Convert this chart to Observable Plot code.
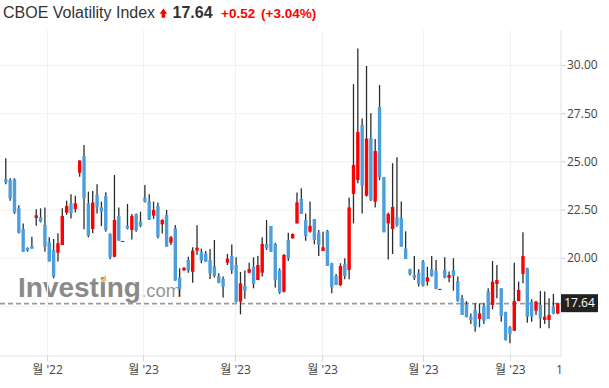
<!DOCTYPE html>
<html><head><meta charset="utf-8">
<script src="https://cdn.jsdelivr.net/npm/d3@7"></script>
<script src="https://cdn.jsdelivr.net/npm/@observablehq/plot@0.6"></script>
<style>
html,body{margin:0;padding:0;background:#fff;}
body{width:609px;height:388px;overflow:hidden;position:relative;}
#title{display:block;}
#chart svg{display:block;}
</style></head><body>
<svg id="title" width="609" height="30" style="font-family:Arial,'Liberation Sans',sans-serif">
  <text x="3" y="18.3" font-size="16" fill="#333">CBOE Volatility Index</text>
  <path d="M159.6,13.8 L163.4,8.6 L167.2,13.8 L165.2,13.8 L165.2,17.8 L161.6,17.8 L161.6,13.8 Z" fill="#f00"/>
  <text x="172.5" y="18.3" font-size="16" font-weight="bold" fill="#333">17.64</text>
  <text x="221" y="18" font-size="13.5" font-weight="bold" fill="#f00">+0.52</text>
  <text x="261" y="18" font-size="13.5" font-weight="bold" fill="#f00">(+3.04%)</text>
</svg>
<div id="chart"></div>
<script>
const opens  = [24.08,24.03,24.08,22.56,21.49,20.50,20.61,22.06,22.09,21.70,20.80,20.40,20.26,20.66,22.34,22.82,22.53,24.41,25.28,22.82,21.49,23.25,22.61,23.20,21.23,20.05,22.16,20.87,21.65,21.44,22.27,21.87,23.12,22.94,22.18,22.68,21.73,22.22,20.78,21.52,18.98,19.34,19.88,19.27,20.37,20.31,20.21,19.88,19.57,19.05,18.90,19.74,20.09,19.62,17.72,18.53,19.22,19.53,18.84,19.22,20.71,21.65,20.71,19.36,18.24,20.92,21.00,21.78,23.05,21.96,21.35,22.01,21.30,20.35,21.39,19.71,19.05,18.58,19.67,19.36,23.31,24.03,26.89,23.22,26.21,22.91,27.82,24.19,21.78,21.49,22.10,22.06,20.48,19.40,19.10,19.22,19.79,18.76,19.41,19.31,18.38,19.36,18.96,19.36,18.79,17.89,17.58,16.94,17.29,16.82,17.49,18.24,17.55,18.64,18.41,17.17,16.39,16.21,17.75,19.16,19.45,17.72,17.25,17.55,16.77,16.77,17.46,17.10];
const highs  = [25.16,24.12,24.12,22.72,21.78,20.54,21.09,22.51,22.56,22.61,21.06,20.97,21.27,22.56,22.96,23.29,23.22,25.06,25.85,23.43,23.46,23.81,22.91,23.39,21.27,24.29,22.60,20.87,22.79,22.27,22.30,22.39,23.77,23.29,22.91,22.86,21.99,22.48,21.13,21.70,19.45,19.50,20.05,20.54,21.68,20.47,20.35,20.45,20.92,19.19,19.02,20.19,20.69,20.02,19.26,19.33,19.74,20.02,20.09,21.06,21.96,21.65,20.78,19.45,20.19,21.30,21.26,23.38,23.60,22.30,22.91,22.01,21.44,21.35,21.44,19.74,19.15,19.71,19.97,23.13,29.01,30.86,27.23,29.95,27.49,26.16,28.96,24.19,22.34,24.90,25.21,22.92,21.37,19.43,20.09,19.40,19.88,19.53,20.09,19.88,18.38,20.02,19.28,19.97,19.02,18.07,17.75,17.11,17.63,17.63,17.63,18.41,19.83,19.62,18.41,17.20,16.46,19.74,18.76,21.32,19.48,17.84,17.75,18.27,18.24,17.89,18.12,17.66];
const lows   = [23.81,22.96,22.27,21.26,20.31,20.31,20.47,21.66,21.83,20.31,19.80,18.93,19.80,20.66,22.22,22.04,22.34,24.20,21.47,21.06,21.27,22.30,21.64,21.35,19.92,20.02,20.88,20.87,21.47,20.95,21.35,21.58,22.86,21.96,22.01,21.00,21.26,20.57,20.66,18.81,17.98,19.32,19.22,18.70,20.14,19.71,19.79,18.90,18.97,18.67,17.94,19.62,19.15,17.67,17.06,17.87,19.19,18.41,18.84,19.02,20.40,20.31,18.46,18.12,18.19,19.83,21.00,21.78,22.27,20.88,21.30,20.69,20.09,20.35,19.57,18.15,18.58,18.53,18.88,18.88,21.78,23.86,22.30,23.17,22.94,22.61,24.03,21.32,19.91,20.19,21.61,20.57,19.93,19.08,18.84,18.50,18.50,18.55,19.01,18.36,18.38,18.93,18.72,18.29,17.72,17.03,16.91,16.56,16.16,16.39,16.56,16.82,17.32,17.89,16.68,15.70,15.56,16.21,17.75,18.67,16.63,16.68,17.03,16.34,16.56,16.34,17.06,17.08];
const closes = [23.91,23.08,22.34,21.30,20.31,20.37,20.47,22.20,21.87,20.57,19.80,19.02,20.75,22.16,22.68,22.30,22.82,25.04,23.08,21.13,22.86,22.61,22.39,21.44,20.02,21.96,20.88,20.87,21.51,22.16,21.40,21.65,22.91,21.99,22.48,21.09,21.96,20.57,21.06,18.81,18.36,19.48,19.33,20.37,20.52,19.85,19.79,19.19,19.05,18.70,18.50,19.95,19.36,17.72,18.67,18.29,19.41,18.64,19.62,20.71,20.49,20.31,18.84,18.19,20.14,19.97,21.23,22.87,22.27,21.13,21.65,20.92,20.66,20.54,19.57,18.46,18.58,19.57,19.05,22.61,24.81,26.52,23.74,26.18,23.00,25.54,24.17,21.32,22.27,22.63,21.70,20.57,19.93,19.14,18.95,18.63,18.55,18.98,19.05,18.39,18.38,18.96,19.10,19.05,17.77,17.03,16.91,16.77,16.42,17.11,16.73,16.82,18.76,18.84,16.98,15.73,16.04,17.75,18.33,20.09,16.94,16.94,17.72,16.85,16.94,17.03,17.11,17.64];
const xTickPos    = [9.6, 31.7, 52.85, 72.9, 96.1, 116.1];
const xTickLabels = ["월 '22", "월 '23", "월 '23", "월 '23", "월 '23", "월 '23"];
const edgeTickPos = [127.4];
const edgeTickLabels = ["1"];
const yGridTicks = [17.5, 20, 22.5, 25, 27.5, 30];
const yLabelTicks = [20, 22.5, 25, 27.5, 30];
const lastPrice = 17.64;

const data = opens.map((o, i) => ({i, open: o, high: highs[i], low: lows[i], close: closes[i]}));
const UP = "#ff0000", DOWN = "#4d9fdc";
const bodies = data.filter(d => d.open !== d.close);
const dojis = data.filter(d => d.open === d.close);

const plot = Plot.plot({
  width: 609, height: 358,
  marginLeft: 0, marginRight: 48.5, marginTop: 0, marginBottom: 32.5,
  style: {background: "transparent", fontFamily: "'Open Sans','Noto Sans CJK KR',sans-serif", fontSize: "12px", overflow: "visible"},
  x: {domain: [-1.22, 127.75]},
  y: {domain: [14.925, 31.816]},
  marks: [
    Plot.gridY({ticks: yGridTicks, stroke: "#f0f0f0", strokeOpacity: 1}),
    Plot.gridX({ticks: xTickPos, stroke: "#f0f0f0", strokeOpacity: 1}),
    Plot.frame({anchor: "bottom", stroke: "#dde1e6"}),
    Plot.frame({anchor: "right", stroke: "#dde1e6"}),
    Plot.ruleY([lastPrice], {stroke: "#9a9a9a", strokeWidth: 1.7, strokeDasharray: "5,3"}),
    Plot.ruleX(data, {x: "i", y1: "low", y2: "high", stroke: "#2a2d30", strokeWidth: 1.3}),
    Plot.ruleX(bodies, {x: "i", y1: "open", y2: "close", stroke: d => d.close > d.open ? UP : DOWN, strokeWidth: 3.4}),
    Plot.ruleY(dojis, {y: "close", x1: d => d.i - 0.4, x2: d => d.i + 0.4, stroke: "#333", strokeWidth: 1}),
    Plot.axisY({anchor: "right", ticks: yLabelTicks, tickFormat: d3.format(".2f"), tickSize: 4, tickPadding: 2, stroke: "#c9cdd2", fill: "#444", label: null}),
    Plot.axisX({ticks: xTickPos, tickFormat: d => xTickLabels[xTickPos.indexOf(d)], tickSize: 6, tickPadding: 3, stroke: "#d3d7dc", fill: "#444", label: null}),
    Plot.axisX({ticks: edgeTickPos, tickFormat: d => edgeTickLabels[edgeTickPos.indexOf(d)], tickSize: 0, tickPadding: 9, fill: "#444", label: null})
  ]
});
document.getElementById("chart").appendChild(plot);

const svg = d3.select(plot);
// watermark behind the marks
const wm = svg.insert("g", "g").attr("font-family", "Arial,'Liberation Sans',sans-serif").attr("text-anchor", "start");
wm.append("text").attr("x", 18).attr("y", 266.7).attr("font-size", 28).attr("font-weight", "bold").attr("fill", "#8a8a8a").text("Investing");
wm.append("text").attr("x", 141).attr("y", 266.7).attr("font-size", 18.5).attr("fill", "#959595").text(".com");
wm.append("path").attr("d", "M100,252.5 L106,244.5 L106,251 L100,253 Z").attr("fill", "#f6bd5f");
// last price tag
const yPix = plot.scale("y").apply(lastPrice);
const tag = svg.append("g");
tag.append("rect").attr("x", 561).attr("y", yPix - 9).attr("width", 37).attr("height", 18).attr("fill", "#222");
tag.append("text").attr("x", 579.5).attr("y", yPix).attr("dy", "0.35em").attr("text-anchor", "middle")
  .attr("fill", "#fff").attr("font-size", 12).attr("font-family", "'Open Sans',sans-serif").text(lastPrice.toFixed(2));
</script>
</body></html>
